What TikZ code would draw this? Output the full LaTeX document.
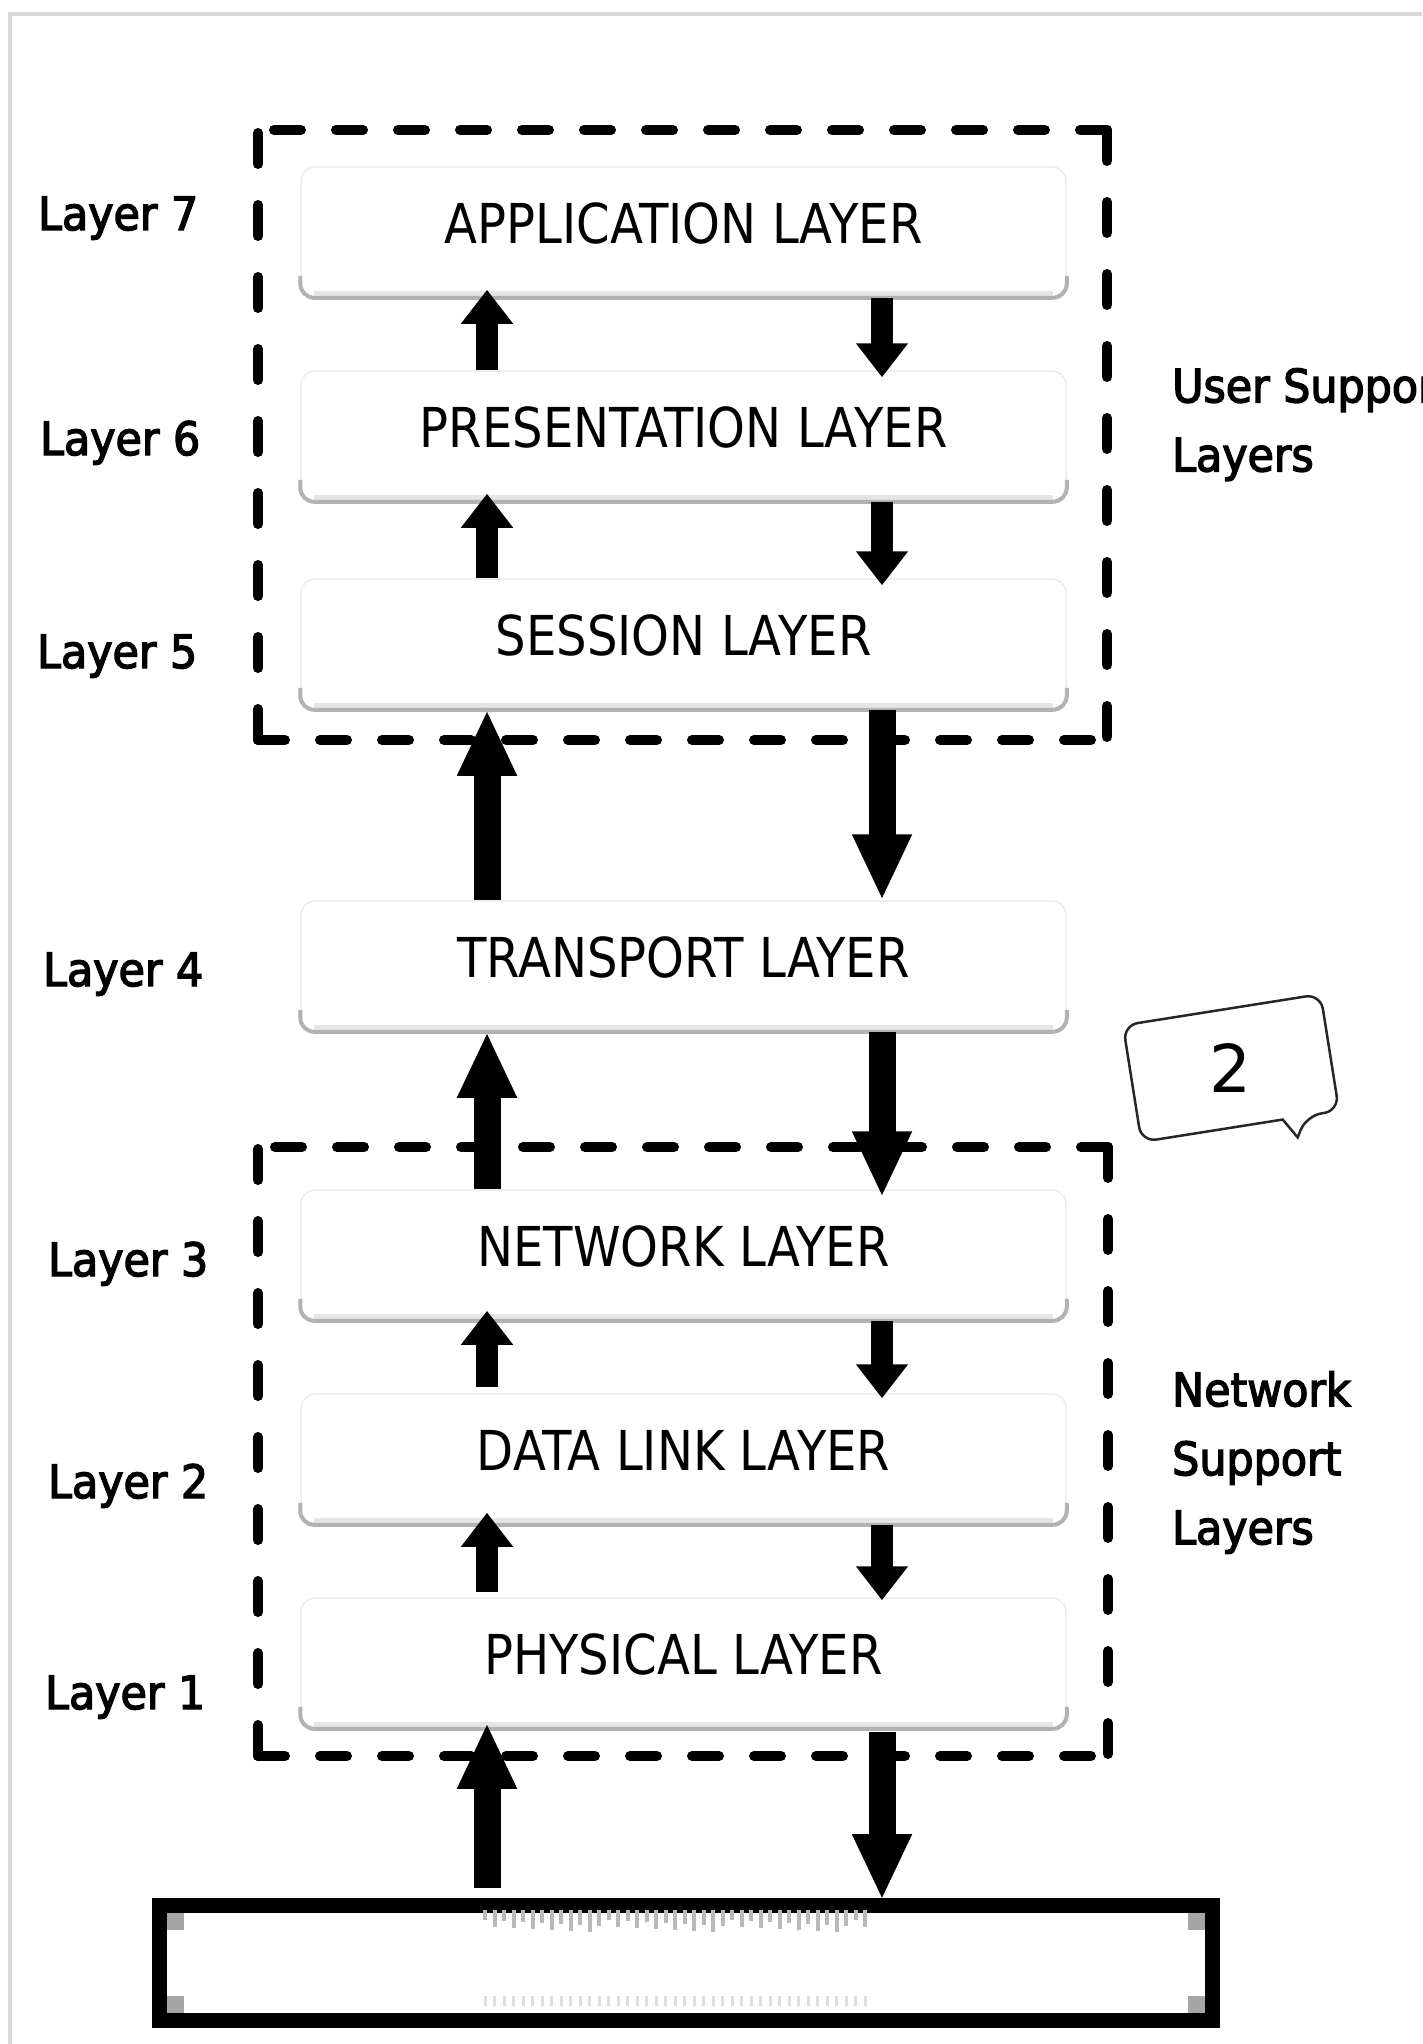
\documentclass[tikz,border=0pt]{standalone}
\usepackage{fontspec}
\setmainfont{DejaVu Sans}
\newfontfamily\layerfont[FakeStretch=0.875]{DejaVu Sans}
\newfontfamily\labelfont[FakeStretch=0.93,FakeBold=3]{DejaVu Sans}
\usetikzlibrary{arrows.meta,calc}

\tikzset{
  layerbox/.style={draw=gray!15, line width=1.5pt, fill=white, rounded corners=14pt,
    minimum width=765pt, minimum height=130pt, inner sep=0pt,
    text height=41pt, text depth=18pt,
    font=\layerfont\fontsize{55}{60}\selectfont},
  boxshade/.style={draw=gray!60, line width=4pt, rounded corners=14pt},
  boxhaze/.style={draw=gray!20, line width=9pt},
  sidelabel/.style={anchor=base west, inner sep=0pt, font=\labelfont\fontsize{46}{50}\selectfont},
  grouplabel/.style={anchor=north west, inner sep=0pt, align=left,
    font=\labelfont\fontsize{46}{69}\selectfont},
  hdash/.style={line width=10pt, line cap=round, dash pattern=on 27pt off 35pt},
  vdash/.style={line width=10pt, line cap=round, dash pattern=on 31pt off 41pt},
  shortflow/.style={line width=22pt, -{Triangle[width=50pt,length=34pt]}},
  longflow/.style={line width=27pt, -{Triangle[width=55pt,length=66pt]}},
  medium/.style={draw=black, line width=15pt, minimum width=1053pt, minimum height=115pt, inner sep=0pt},
  bubble/.style={draw=black!85, line width=2.5pt, fill=white},
}

\begin{document}
\begin{tikzpicture}[x=1pt,y=-1pt]
  \useasboundingbox (0,0) rectangle (1422,2044);
  \fill[white] (0,0) rectangle (1422,2044);

  % thin frame along the top and left
  \draw[gray!30, line width=3.5pt] (10,2044) -- (10,14) -- (1422,14);

  % x positions of the upward and downward flows
  \coordinate (upx) at (487,0);
  \coordinate (dnx) at (882,0);

  % user support group
  \draw[hdash] (1107,130) -- (262,130);
  \draw[vdash] (1107,130) -- (1107,740);
  \draw[vdash] (258,740) -- (258,130);
  \draw[hdash] (258,740) -- (1107,740);

  % network support group
  \draw[hdash] (1108,1147) -- (262,1147);
  \draw[vdash] (1108,1147) -- (1108,1756);
  \draw[vdash] (258,1756) -- (258,1147);
  \draw[hdash] (258,1756) -- (1108,1756);

  % the seven layers
  \node[layerbox] (app)   at (683.5,232)  {APPLICATION LAYER};
  \node[layerbox] (pres)  at (683.5,436)  {PRESENTATION LAYER};
  \node[layerbox] (sess)  at (683.5,644)  {SESSION LAYER};
  \node[layerbox] (trans) at (683.5,966)  {TRANSPORT LAYER};
  \node[layerbox] (net)   at (683.5,1255) {NETWORK LAYER};
  \node[layerbox] (dl)    at (683.5,1459) {DATA LINK LAYER};
  \node[layerbox] (phys)  at (683.5,1663) {PHYSICAL LAYER};

  % soft shadow along the lower edge of each layer
  \foreach \b in {app,pres,sess,trans,net,dl,phys}{
    \draw[boxhaze] ($(\b.south west)+(14,-2)$) -- ($(\b.south east)+(-14,-2)$);
    \draw[boxshade] ($(\b.south west)+(0,-22)$) -- (\b.south west) -- (\b.south east) -- ($(\b.south east)+(0,-22)$);
  }

  % transmission medium
  \node[medium] (wire) at (686,1963) {};
  \fill[gray!70] ($(wire.north west)+(15,15)$) rectangle +(17,17);
  \fill[gray!70] ($(wire.south west)+(15,-15)$) rectangle +(17,-17);
  \fill[gray!70] ($(wire.north east)+(-15,15)$) rectangle +(-17,17);
  \fill[gray!70] ($(wire.south east)+(-15,-15)$) rectangle +(-17,-17);
  \foreach \i in {0,...,40}{
    \pgfmathsetmacro{\h}{10+mod(\i*7,13)}
    \draw[gray!55, line width=4pt] (485+\i*9.5,1910) -- ++(0,\h);
    \draw[gray!25, line width=3pt] (485+\i*9.5,1996) -- ++(0,10);
  }

  % downward flow
  \draw[shortflow] (app.south -| dnx)  -- ([yshift=-7pt]pres.north -| dnx);
  \draw[shortflow] (pres.south -| dnx) -- ([yshift=-7pt]sess.north -| dnx);
  \draw[longflow]  (sess.south -| dnx) -- (trans.north -| dnx);
  \draw[longflow]  (trans.south -| dnx) -- ([yshift=-8pt]net.north -| dnx);
  \draw[shortflow] (net.south -| dnx)  -- ([yshift=-5pt]dl.north -| dnx);
  \draw[shortflow] (dl.south -| dnx)   -- ([yshift=-3pt]phys.north -| dnx);
  \draw[longflow]  ([yshift=-3pt]phys.south -| dnx) -- ([yshift=-2pt]wire.north -| dnx);

  % upward flow
  \draw[shortflow] (pres.north -| upx) -- ([yshift=8pt]app.south -| upx);
  \draw[shortflow] (sess.north -| upx) -- ([yshift=8pt]pres.south -| upx);
  \draw[longflow]  (trans.north -| upx) -- (sess.south -| upx);
  \draw[longflow]  (net.north -| upx) -- (trans.south -| upx);
  \draw[shortflow] ([yshift=6pt]dl.north -| upx) -- ([yshift=10pt]net.south -| upx);
  \draw[shortflow] ([yshift=5pt]phys.north -| upx) -- ([yshift=12pt]dl.south -| upx);
  \draw[longflow]  ([yshift=10pt]wire.north -| upx) -- ([yshift=6pt]phys.south -| upx);

  % layer numbers
  \node[sidelabel] (l7) at (38,230)  {Layer 7};
  \node[sidelabel] (l6) at (40,455)  {Layer 6};
  \node[sidelabel] (l5) at (37,668)  {Layer 5};
  \node[sidelabel] (l4) at (43,986)  {Layer 4};
  \node[sidelabel] (l3) at (48,1276) {Layer 3};
  \node[sidelabel] (l2) at (48,1498) {Layer 2};
  \node[sidelabel] (l1) at (45,1709) {Layer 1};

  % group names
  \node[grouplabel] (usr) at (1172,368)  {User Support\\Layers};
  \node[grouplabel] (nsl) at (1172,1371) {Network\\Support\\Layers};

  % callout
  \begin{scope}[shift={(1231,1068)}, rotate=9]
    \draw[bubble] (43,59) [rounded corners=15pt] -- (-100,59) -- (-100,-59) -- (100,-59) -- (100,59) -- (67,59) [sharp corners] -- (55,79) -- cycle;
  \end{scope}
  \node[font=\fontsize{66}{70}\selectfont, inner sep=0pt] (badge) at (1230,1068) {2};
\end{tikzpicture}
\end{document}
